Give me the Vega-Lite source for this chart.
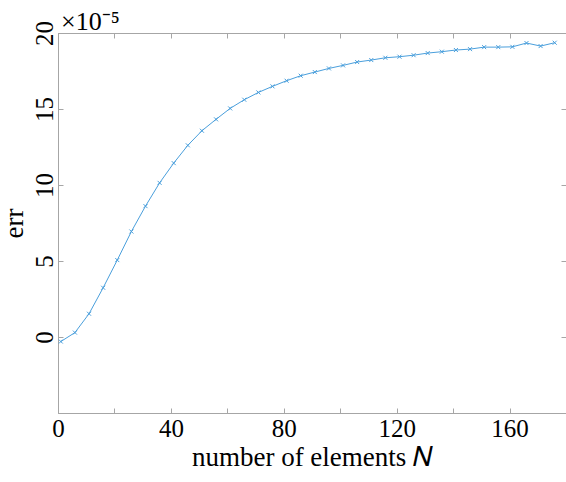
{
  "$schema": "https://vega.github.io/schema/vega-lite/v6.json",
  "width": 508,
  "height": 380,
  "autosize": {"type": "none"},
  "padding": {"left": 58, "top": 33, "right": 0, "bottom": 69},
  "background": "white",
  "config": {
    "view": {"stroke": "#a6a6a6", "strokeWidth": 1},
    "font": "Liberation Serif",
    "axis": {
      "grid": false,
      "domainColor": "#a6a6a6",
      "tickColor": "#a6a6a6",
      "tickSize": -5,
      "labelFlush": false,
      "labelOverlap": false,
      "labelFont": "Liberation Serif",
      "labelFontSize": 25,
      "labelColor": "black",
      "titleFont": "Liberation Serif",
      "titleFontSize": 27,
      "titleFontWeight": "normal",
      "titleColor": "black"
    }
  },
  "title": {
    "text": "×10⁻⁵",
    "anchor": "start",
    "frame": "group",
    "font": "Liberation Serif",
    "fontSize": 26,
    "fontWeight": "normal",
    "offset": 2,
    "dx": 3,
    "dy": 16
  },
  "data": {
    "values": [
      {"N": 1, "err": -3.0e-6},
      {"N": 6, "err": 2.9e-6},
      {"N": 11, "err": 1.53e-5},
      {"N": 16, "err": 3.24e-5},
      {"N": 21, "err": 5.06e-5},
      {"N": 26, "err": 6.94e-5},
      {"N": 31, "err": 8.61e-5},
      {"N": 36, "err": 1.014e-4},
      {"N": 41, "err": 1.144e-4},
      {"N": 46, "err": 1.261e-4},
      {"N": 51, "err": 1.357e-4},
      {"N": 56, "err": 1.432e-4},
      {"N": 61, "err": 1.504e-4},
      {"N": 66, "err": 1.561e-4},
      {"N": 71, "err": 1.609e-4},
      {"N": 76, "err": 1.649e-4},
      {"N": 81, "err": 1.686e-4},
      {"N": 86, "err": 1.719e-4},
      {"N": 91, "err": 1.743e-4},
      {"N": 96, "err": 1.767e-4},
      {"N": 101, "err": 1.787e-4},
      {"N": 106, "err": 1.809e-4},
      {"N": 111, "err": 1.822e-4},
      {"N": 116, "err": 1.837e-4},
      {"N": 121, "err": 1.844e-4},
      {"N": 126, "err": 1.854e-4},
      {"N": 131, "err": 1.868e-4},
      {"N": 136, "err": 1.877e-4},
      {"N": 141, "err": 1.888e-4},
      {"N": 146, "err": 1.894e-4},
      {"N": 151, "err": 1.907e-4},
      {"N": 156, "err": 1.907e-4},
      {"N": 161, "err": 1.909e-4},
      {"N": 166, "err": 1.934e-4},
      {"N": 171, "err": 1.914e-4},
      {"N": 176, "err": 1.936e-4}
    ]
  },
  "layer": [
    {
      "mark": {"type": "line", "color": "#4a9fdc", "strokeWidth": 1, "clip": true},
      "encoding": {
        "x": {
          "field": "N",
          "type": "quantitative",
          "scale": {"domain": [0, 180], "nice": false, "zero": false},
          "axis": {
            "orient": "bottom",
            "values": [0, 20, 40, 60, 80, 100, 120, 140, 160],
            "labelExpr": "datum.value % 40 == 0 ? datum.label : ''",
            "labelPadding": 8,
            "title": "number of elements 𝑁",
            "titlePadding": 3
          }
        },
        "y": {
          "field": "err",
          "type": "quantitative",
          "scale": {"domain": [-0.00005, 0.0002], "nice": false, "zero": false},
          "axis": {
            "orient": "left",
            "values": [0, 0.00005, 0.0001, 0.00015, 0.0002],
            "labelExpr": "format(datum.value * 100000, '.0f')",
            "labelAngle": 270,
            "labelAlign": "center",
            "labelBaseline": "bottom",
            "labelPadding": 6,
            "title": "err",
            "titlePadding": 4
          }
        }
      }
    },
    {
      "mark": {
        "type": "point",
        "shape": "M-1,-1L1,1M-1,1L1,-1",
        "size": 16,
        "filled": false,
        "color": "#4a9fdc",
        "strokeWidth": 1,
        "opacity": 1
      },
      "encoding": {
        "x": {
          "field": "N",
          "type": "quantitative",
          "scale": {"domain": [0, 180], "nice": false, "zero": false},
          "axis": {
            "orient": "top",
            "values": [0, 20, 40, 60, 80, 100, 120, 140, 160],
            "labels": false,
            "title": null
          }
        },
        "y": {
          "field": "err",
          "type": "quantitative",
          "scale": {"domain": [-0.00005, 0.0002], "nice": false, "zero": false},
          "axis": {
            "orient": "right",
            "values": [0, 0.00005, 0.0001, 0.00015, 0.0002],
            "labels": false,
            "title": null
          }
        }
      }
    }
  ],
  "resolve": {"axis": {"x": "independent", "y": "independent"}}
}
